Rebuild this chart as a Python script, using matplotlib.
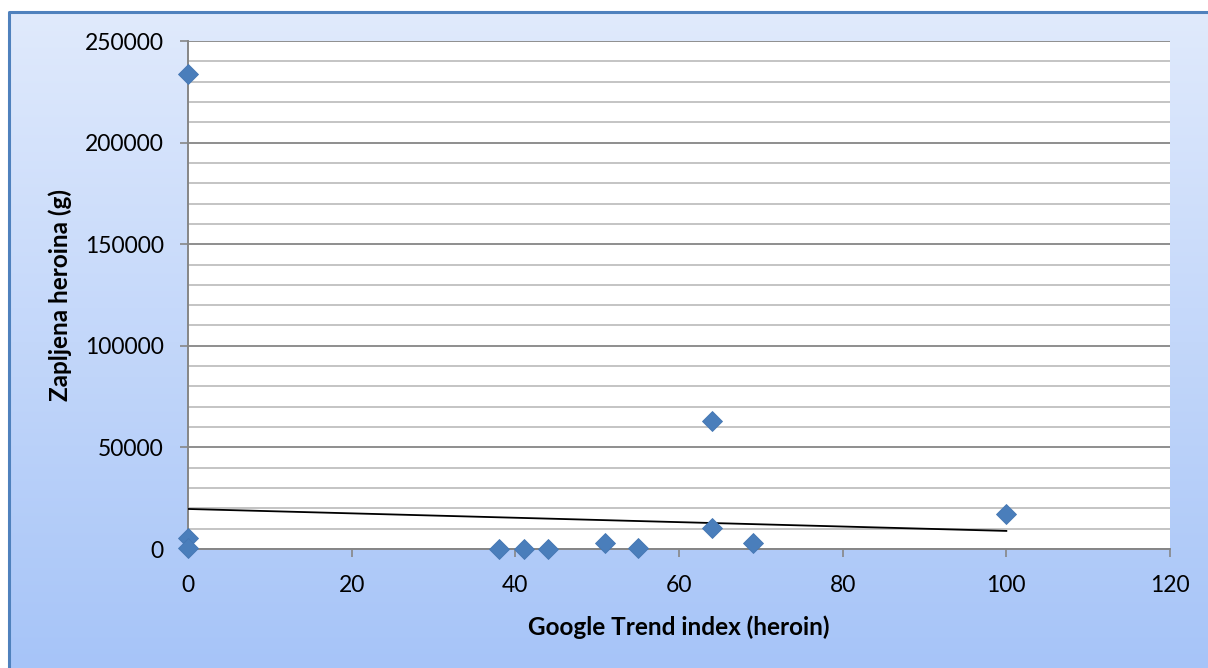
import numpy as np
import matplotlib
matplotlib.use("Agg")
import matplotlib.pyplot as plt
from matplotlib.ticker import MultipleLocator

# Data
trend_index = [0, 0, 0, 38, 41, 44, 51, 55, 64, 64, 69, 100]
seized_heroin = [234000, 5500, 300, 0, 0, 0, 3000, 500, 63000, 10300, 3000, 17200]
trend_x = [0, 100]
trend_y = [19700, 8900]

x_ticks = [0, 20, 40, 60, 80, 100, 120]
y_ticks = [0, 50000, 100000, 150000, 200000, 250000]

plt.rcParams['font.family'] = ['Lato', 'DejaVu Sans']

W, H = 1208, 668
fig = plt.figure(figsize=(W / 100, H / 100), dpi=100)
fig.patch.set_facecolor('white')

# gradient background with blue frame
bg = fig.add_axes([0, 0, 1, 1], zorder=-10)
bg.set_xlim(0, W)
bg.set_ylim(H, 0)
bg.axis('off')
top = np.array([0xe0, 0xea, 0xfc]) / 255
bot = np.array([0xa6, 0xc4, 0xf8]) / 255
t = np.linspace(0, 1, 256)[:, None]
grad = (top[None, :] * (1 - t) + bot[None, :] * t)[:, None, :]
bg.imshow(grad, extent=[9, W + 5, H + 5, 12], aspect='auto', interpolation='bilinear')
bg.plot([9, 9, W + 5], [H + 5, 12, 12], color='#4f81bd', lw=2.2, solid_capstyle='butt')

ax = fig.add_axes([188 / W, 1 - 549 / H, (1170 - 188) / W, (549 - 41) / H])
ax.set_facecolor('white')
ax.set_xlim(0, 120)
ax.set_ylim(0, 250000)

ax.yaxis.set_minor_locator(MultipleLocator(10000))
ax.set_yticks(y_ticks)
ax.set_xticks(x_ticks)
ax.grid(which='minor', axis='y', color='#c4c4c4', lw=1.4, zorder=0)
ax.grid(which='major', axis='y', color='#8e8e8e', lw=1.4, zorder=0)
ax.grid(which='major', axis='x', visible=False)

for s in ['top', 'right']:
    ax.spines[s].set_visible(False)
for s in ['left', 'bottom']:
    ax.spines[s].set_color('#868686')
    ax.spines[s].set_linewidth(1.4)

ax.tick_params(axis='y', which='minor', length=0)
ax.tick_params(axis='both', which='major', direction='out', length=5.5, width=1.2,
               color='#868686', labelsize=16.5, labelcolor='black')
ax.tick_params(axis='y', pad=12)
ax.tick_params(axis='x', pad=13)

ax.plot(trend_x, trend_y, color='black', lw=1.3, zorder=3)
ax.plot(trend_index, seized_heroin, linestyle='none', marker='D', markersize=10.5,
        markerfacecolor='#4a7ebb', markeredgecolor='#4577b3', markeredgewidth=0.6,
        zorder=4, clip_on=False)

ax.set_xlabel('Google Trend index (heroin)', fontsize=17.5, fontweight='bold', labelpad=14)
ax.set_ylabel('Zapljena heroina (g)', fontsize=17.5, fontweight='bold', labelpad=9)

fig.savefig('out.png', dpi=100)
